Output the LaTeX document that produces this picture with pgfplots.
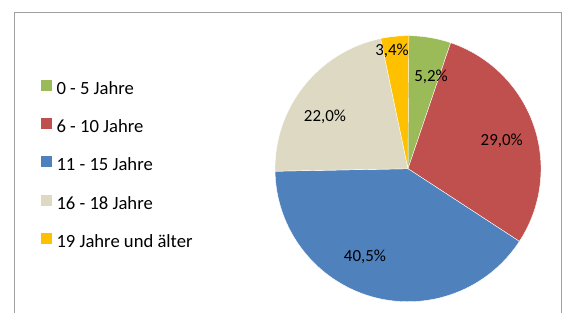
\documentclass[border=0pt]{standalone}
\usepackage{pgfplots}
\pgfplotsset{compat=1.18}
\usepackage{pgfplotstable}
\usepackage{fontspec}
\setmainfont{Carlito}
\definecolor{cA}{HTML}{9BBB59}
\definecolor{cB}{HTML}{C0504D}
\definecolor{cC}{HTML}{4F81BD}
\definecolor{cD}{HTML}{DDD9C3}
\definecolor{cE}{HTML}{FFC000}
\definecolor{frame}{HTML}{A0A0A0}

% share (%), label x, label baseline y (pixel space, y down)
\pgfplotstableread{
pct lx ly
5.2  431   81.7
29.0 501.7 146
40.5 365   261.7
22.0 325   121.7
3.4  392   56
}\piedata

\begin{document}
\begin{tikzpicture}
\begin{axis}[
  hide axis, scale only axis,
  width=566bp, height=313bp,
  xmin=0, xmax=566, ymin=0, ymax=313,
  clip=false,
  legend cell align=left,
  legend image code/.code={\fill[#1, draw=none] (0bp,-0.5bp) rectangle (11bp,10.5bp);},
  legend style={at={(axis cs:41,233)}, anchor=north west, draw=none, fill=none,
    inner sep=0pt, outer sep=0pt, row sep=19.7bp,
    font=\fontsize{18.7}{20}\selectfont,
    nodes={inner sep=0pt, text height=12bp, text depth=4bp},
    /tikz/every odd column/.append style={column sep=4.5bp}},
]
\path (axis cs:0,0) rectangle (axis cs:566,313);
% frame
\draw[frame, line width=1.2bp] (axis cs:14.8,0) -- (axis cs:14.8,300.5) -- (axis cs:561.7,300.5) -- (axis cs:561.7,0);
% pie
\def\cx{408}\def\cy{144.3}\def\R{133}
\def\startangle{90}
\pgfplotsforeachungrouped \i/\col in {0/cA,1/cB,2/cC,3/cD,4/cE}{
  \pgfplotstablegetelem{\i}{pct}\of\piedata \let\p=\pgfplotsretval
  \pgfmathsetmacro\endangle{\startangle-3.6*\p}
  \edef\temp{\noexpand\fill[\col, draw=white, line width=0.4bp] (axis cs:\cx,\cy) -- ++(\startangle:\R bp) arc[start angle=\startangle, end angle=\endangle, radius=\R bp] -- cycle;}
  \temp
  \let\startangle=\endangle
}
\pgfplotsforeachungrouped \i in {0,...,4}{
  \pgfplotstablegetelem{\i}{pct}\of\piedata \let\p=\pgfplotsretval
  \pgfplotstablegetelem{\i}{lx}\of\piedata \let\lx=\pgfplotsretval
  \pgfplotstablegetelem{\i}{ly}\of\piedata \let\ly=\pgfplotsretval
  \pgfmathsetmacro\lyy{313-\ly}
  \edef\temp{\noexpand\node[anchor=base, inner sep=0pt, font=\noexpand\fontsize{17}{19}\noexpand\selectfont] at (axis cs:\lx,\lyy) {\noexpand\pgfmathprintnumber[assume math mode=true, use comma, fixed, fixed zerofill, precision=1]{\p}\noexpand\%};}
  \temp
}
\addlegendimage{fill=cA}
\addlegendimage{fill=cB}
\addlegendimage{fill=cC}
\addlegendimage{fill=cD}
\addlegendimage{fill=cE}
\legend{0 - 5 Jahre, 6 - 10 Jahre, 11 - 15 Jahre, 16 - 18 Jahre, 19 Jahre und älter}
\end{axis}
\end{tikzpicture}
\end{document}
